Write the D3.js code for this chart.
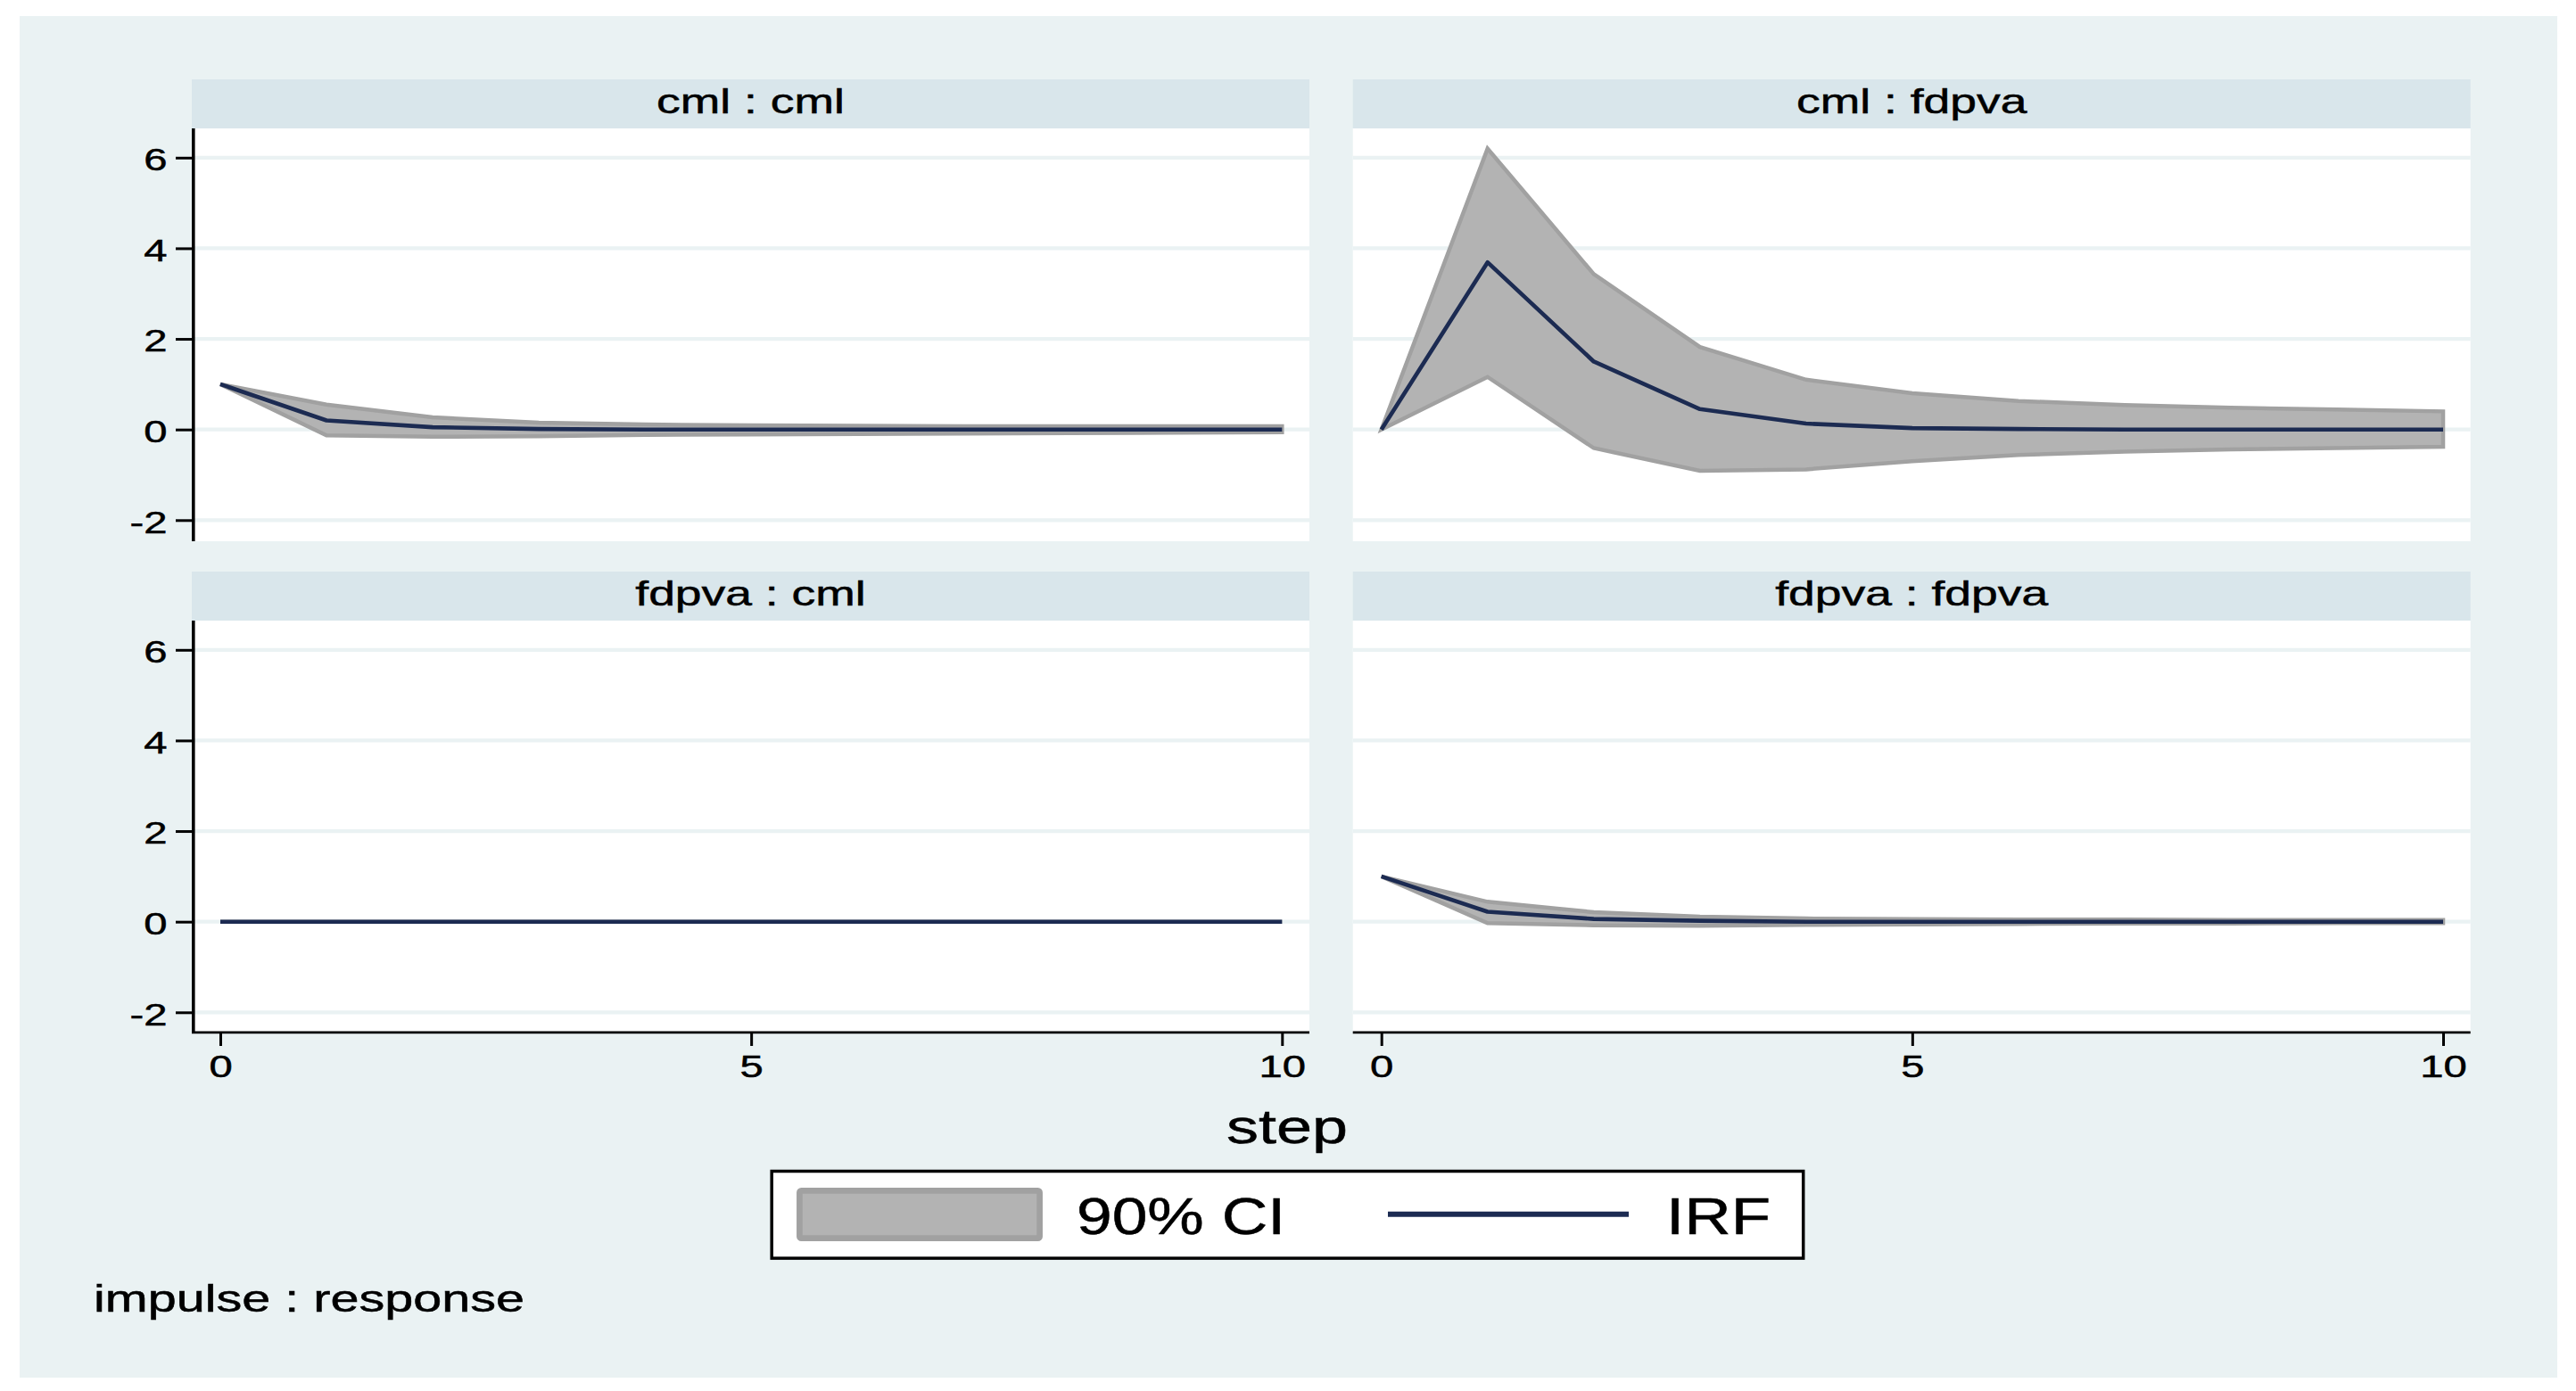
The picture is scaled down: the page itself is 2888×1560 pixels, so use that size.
<!DOCTYPE html>
<html>
<head>
<meta charset="utf-8">
<script src="https://cdn.jsdelivr.net/npm/d3@7/dist/d3.min.js"></script>
<style>
  html, body { margin: 0; padding: 0; background: #ffffff; }
  svg { display: block; }
  text { font-family: "Liberation Sans", Arial, Helvetica, sans-serif; fill: #000; stroke: #000; stroke-width: 0.5px; }
</style>
</head>
<body>
<svg id="chart" width="2888" height="1560"></svg>
<script>
// ---------------- DATA ----------------
const steps = [0, 1, 2, 3, 4, 5, 6, 7, 8, 9, 10];
const panelTitles = ["cml : cml", "cml : fdpva", "fdpva : cml", "fdpva : fdpva"];
const yTicks = [-2, 0, 2, 4, 6];
const yTickLabels = ["-2", "0", "2", "4", "6"];
const xTicks = [0, 5, 10];
const xTickLabels = ["0", "5", "10"];
const legendLabels = ["90% CI", "IRF"];
const xAxisTitle = "step";
const noteText = "impulse : response";

// cml : cml
const irfCmlCml = [1, 0.20, 0.05, 0.01, 0.00, 0.00, 0.00, 0.00, 0.00, 0.00, 0.00];
const upCmlCml  = [1, 0.55, 0.27, 0.15, 0.11, 0.09, 0.08, 0.07, 0.07, 0.07, 0.07];
const loCmlCml  = [1, -0.13, -0.16, -0.15, -0.12, -0.11, -0.10, -0.09, -0.08, -0.07, -0.06];
// cml : fdpva
const irfCmlFd = [0, 3.69, 1.50, 0.45, 0.13, 0.03, 0.01, 0.00, 0.00, 0.00, 0.00];
const upCmlFd  = [0, 6.20, 3.43, 1.82, 1.10, 0.80, 0.63, 0.54, 0.48, 0.44, 0.40];
const loCmlFd  = [0, 1.16, -0.41, -0.91, -0.88, -0.70, -0.56, -0.49, -0.44, -0.41, -0.38];
// fdpva : cml
const irfFdCml = [0, 0, 0, 0, 0, 0, 0, 0, 0, 0, 0];
const upFdCml  = [0, 0, 0, 0, 0, 0, 0, 0, 0, 0, 0];
const loFdCml  = [0, 0, 0, 0, 0, 0, 0, 0, 0, 0, 0];
// fdpva : fdpva
const irfFdFd = [1, 0.22, 0.06, 0.02, 0.00, 0.00, 0.00, 0.00, 0.00, 0.00, 0.00];
const upFdFd  = [1, 0.44, 0.21, 0.11, 0.07, 0.06, 0.05, 0.05, 0.04, 0.04, 0.04];
const loFdFd  = [1, -0.03, -0.08, -0.09, -0.07, -0.06, -0.05, -0.04, -0.04, -0.03, -0.03];

const panelIrf = [irfCmlCml, irfCmlFd, irfFdCml, irfFdFd];
const panelUp  = [upCmlCml, upCmlFd, upFdCml, upFdFd];
const panelLo  = [loCmlCml, loCmlFd, loFdCml, loFdFd];

// ---------------- STYLE / LAYOUT ----------------
const C = {
  outerBg: "#eaf2f3", header: "#d9e6eb", plot: "#ffffff", grid: "#eaf2f3",
  ciFill: "#b3b3b3", ciLine: "#a1a1a1", irf: "#1c2b52", axis: "#000000"
};
const plotW = 1253, plotH = 463, headerH = 55;
const colLeft = [215, 1516.7];
const rowTop = [144, 696];

const svg = d3.select("#chart");

function stretch(sel, k) {
  sel.each(function () {
    const w = this.getComputedTextLength();
    this.setAttribute("textLength", w * k);
    this.setAttribute("lengthAdjust", "spacingAndGlyphs");
  });
}

// outer background
svg.append("rect").attr("x", 22).attr("y", 18).attr("width", 2845).attr("height", 1527).attr("fill", C.outerBg);

panelTitles.forEach((title, i) => {
  const col = i % 2, row = Math.floor(i / 2);
  const pl = colLeft[col], pt = rowTop[row];
  const g = svg.append("g");

  const x = d3.scaleLinear().domain([0, 10]).range([pl + 32, pl + 1222.3]);
  const y = d3.scaleLinear().domain([-2, 6]).range([pt + 439.3, pt + 32.8]);

  // header strip
  g.append("rect").attr("x", pl).attr("y", pt - headerH).attr("width", plotW).attr("height", headerH).attr("fill", C.header);
  const ht = g.append("text").attr("x", pl + plotW / 2).attr("y", pt - 16.7)
    .attr("text-anchor", "middle").attr("font-size", 39).text(title);
  stretch(ht, 1.37);

  // plot region
  g.append("rect").attr("x", pl).attr("y", pt).attr("width", plotW).attr("height", plotH).attr("fill", C.plot);

  // gridlines
  g.selectAll(".grid").data(yTicks).enter().append("line")
    .attr("x1", pl).attr("x2", pl + plotW)
    .attr("y1", d => y(d)).attr("y2", d => y(d))
    .attr("stroke", C.grid).attr("stroke-width", 4.2);

  // CI band
  const up = panelUp[i], lo = panelLo[i], irf = panelIrf[i];
  const area = d3.area().x((d, j) => x(steps[j])).y0((d, j) => y(lo[j])).y1((d, j) => y(up[j]));
  g.append("path").datum(steps).attr("d", area)
    .attr("fill", C.ciFill).attr("stroke", C.ciLine).attr("stroke-width", 4.5).attr("stroke-linejoin", "miter");

  // IRF line
  const line = d3.line().x((d, j) => x(steps[j])).y((d, j) => y(irf[j]));
  g.append("path").datum(steps).attr("d", line)
    .attr("fill", "none").attr("stroke", C.irf).attr("stroke-width", 4.6).attr("stroke-linejoin", "round");

  // y axis on left column
  if (col === 0) {
    const ay = g.append("g").attr("transform", `translate(${pl},0)`)
      .call(d3.axisLeft(y).tickValues(yTicks).tickSize(18).tickPadding(9.5)
        .tickFormat((d, k) => yTickLabels[k]));
    ay.select(".domain").remove();
    ay.attr("font-family", null).attr("font-size", null);
    ay.selectAll(".tick line").attr("stroke", C.axis).attr("stroke-width", 3);
    const tt = ay.selectAll(".tick text").attr("font-size", 35.5).attr("dy", "0.39em").attr("fill", "#000");
    stretch(tt, 1.33);
    g.append("line").attr("x1", pl + 1.8).attr("x2", pl + 1.8).attr("y1", pt).attr("y2", pt + plotH)
      .attr("stroke", C.axis).attr("stroke-width", 3.6);
  }
  // x axis on bottom row
  if (row === 1) {
    const ax = g.append("g").attr("transform", `translate(0,${pt + plotH})`)
      .call(d3.axisBottom(x).tickValues(xTicks).tickSize(14).tickPadding(10.1)
        .tickFormat((d, k) => xTickLabels[k]));
    ax.select(".domain").remove();
    ax.attr("font-family", null).attr("font-size", null);
    ax.selectAll(".tick line").attr("stroke", C.axis).attr("stroke-width", 3);
    const tt = ax.selectAll(".tick text").attr("font-size", 35.5).attr("fill", "#000");
    stretch(tt, 1.33);
    g.append("line").attr("x1", pl).attr("x2", pl + plotW).attr("y1", pt + plotH - 1.2).attr("y2", pt + plotH - 1.2)
      .attr("stroke", C.axis).attr("stroke-width", 2.8);
  }
});

// x-axis title
svg.append("text").attr("x", 1443).attr("y", 1282).attr("text-anchor", "middle")
  .attr("font-size", 54).attr("textLength", 136).attr("lengthAdjust", "spacingAndGlyphs").text(xAxisTitle);

// legend
const lg = svg.append("g");
lg.append("rect").attr("x", 865.2).attr("y", 1313.5).attr("width", 1156.5).attr("height", 97.6)
  .attr("fill", "#ffffff").attr("stroke", "#000").attr("stroke-width", 3.5);
lg.append("rect").attr("x", 896.4).attr("y", 1335.4).attr("width", 269.2).attr("height", 53.3).attr("rx", 2)
  .attr("fill", C.ciFill).attr("stroke", C.ciLine).attr("stroke-width", 6.7);
lg.append("text").attr("x", 1207).attr("y", 1384).attr("font-size", 56.5)
  .attr("textLength", 234).attr("lengthAdjust", "spacingAndGlyphs").text(legendLabels[0]);
lg.append("line").attr("x1", 1556).attr("x2", 1826).attr("y1", 1361.7).attr("y2", 1361.7)
  .attr("stroke", C.irf).attr("stroke-width", 6);
lg.append("text").attr("x", 1868).attr("y", 1383.5).attr("font-size", 56.5)
  .attr("textLength", 117).attr("lengthAdjust", "spacingAndGlyphs").text(legendLabels[1]);

// note
svg.append("text").attr("x", 105).attr("y", 1471).attr("font-size", 42)
  .attr("textLength", 483).attr("lengthAdjust", "spacingAndGlyphs").text(noteText);
</script>
</body>
</html>
